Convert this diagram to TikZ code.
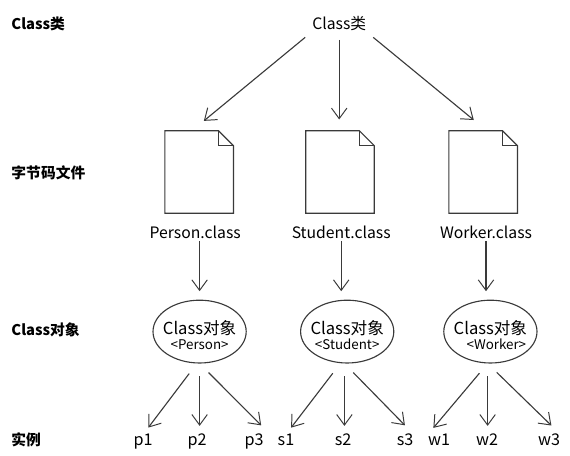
\documentclass[tikz,border=0pt]{standalone}
\usepackage{fontspec}
\setmainfont{Noto Sans CJK SC}
\usetikzlibrary{arrows.meta, shapes.geometric}

\definecolor{inkgrey}{HTML}{3A3A3A}
\tikzset{
  arr/.style={draw=inkgrey, line width=0.8pt, -{Straight Barb[length=7.5pt, width=11pt, line width=0.7pt]}},
  rowlabel/.style={anchor=west, inner sep=0pt, font=\bfseries\fontsize{10.5}{12}\selectfont},
  filelabel/.style={inner sep=1pt, font=\fontsize{11.2}{13}\selectfont},
  inst/.style={inner sep=0pt, text height=8pt, text depth=2.5pt, font=\fontsize{11.5}{13}\selectfont},
  docbox/.style={minimum width=1.7cm, minimum height=2.05cm, inner sep=0pt},
  obj/.style={ellipse, draw=inkgrey, line width=0.8pt, minimum width=2.33cm, minimum height=1.57cm,
    inner xsep=-4pt, inner ysep=0pt, align=center, font=\fontsize{11.8}{13}\selectfont},
}
\newcommand{\sublabel}[1]{{\fontsize{9.5}{11}\selectfont #1}}
\newcommand{\objhead}{\rule{0pt}{15pt}Class对象}
\newcommand{\docicon}[2]{
  \node[docbox](#1) at (#2) {};
  \draw[inkgrey, line width=0.8pt] (#1.north west) -- ([xshift=-0.375cm]#1.north east)
    -- ([yshift=-0.375cm]#1.north east) -- (#1.south east) -- (#1.south west) -- cycle;
  \draw[inkgrey, line width=0.8pt] ([xshift=-0.375cm]#1.north east) -- ([xshift=-0.375cm,yshift=-0.375cm]#1.north east)
    -- ([yshift=-0.375cm]#1.north east);
}

\begin{document}
\begin{tikzpicture}
\useasboundingbox (0,0) rectangle (14.25,11.4);

% row labels
\node[rowlabel](L0) at (0.28,10.8) {Class类};
\node[rowlabel](L1) at (0.28,7.08) {字节码文件};
\node[rowlabel](L2) at (0.28,3.15) {Class对象};
\node[rowlabel](L3) at (0.28,0.4) {实例};

\node[filelabel](top) at (8.48,10.8) {Class类};

\docicon{docA}{4.98,7.1}
\docicon{docS}{8.5,7.1}
\docicon{docW}{12.08,7.1}

\node[filelabel](nameA) at (4.88,5.58) {Person.class};
\node[filelabel](nameS) at (8.53,5.58) {Student.class};
\node[filelabel](nameW) at (12.15,5.58) {Worker.class};

\node[obj](objA) at (4.99,3.11) {\objhead\\[-2pt]\sublabel{<Person>}};
\node[obj](objS) at (8.68,3.11) {\objhead\\[-2pt]\sublabel{<Student>}};
\node[obj](objW) at (12.26,3.11) {\objhead\\[-2pt]\hspace*{0.3cm}\sublabel{<Worker>}};

\node[inst](p1) at (3.58,0.35) {p1};
\node[inst](p2) at (4.93,0.35) {p2};
\node[inst](p3) at (6.35,0.35) {p3};
\node[inst](s1) at (7.15,0.35) {s1};
\node[inst](s2) at (8.58,0.35) {s2};
\node[inst](s3) at (10.13,0.35) {s3};
\node[inst](w1) at (10.98,0.35) {w1};
\node[inst](w2) at (12.18,0.35) {w2};
\node[inst](w3) at (13.73,0.35) {w3};

\draw[arr, shorten <=5pt, shorten >=11pt] (top.south west) -- (docA.100);
\draw[arr, shorten <=5pt, shorten >=8pt] (top.south) -- (top.south |- docS.north);
\draw[arr, shorten <=5pt, shorten >=12pt] (top.south east) -- (docW.85);

\draw[arr, shorten >=6pt] (objA.north |- nameA.south) -- (objA.north);
\draw[arr, shorten >=6pt] (nameS.south) -- (nameS.south |- objS.north);
\draw[arr, shorten >=6pt] (nameW.south) -- (nameW.south |- objW.north);

\draw[arr, shorten <=9pt, shorten >=6pt] (objA.265) -- (p1.north);
\draw[arr, shorten <=9pt, shorten >=6pt] (objA.south) -- (objA.south |- p2.north);
\draw[arr, shorten <=9pt, shorten >=9pt] (objA.south) -- ([xshift=4.5pt]p3.north east);

\draw[arr, shorten <=9pt, shorten >=6pt] (objS.258) -- (s1.north);
\draw[arr, shorten <=9pt, shorten >=6pt] (objS.265) -- (objS.265 |- s2.north);
\draw[arr, shorten <=9pt, shorten >=9pt] (objS.265) -- (s3.north east);

\draw[arr, shorten <=9pt, shorten >=6pt] (objW.265) -- (w1.north west);
\draw[arr, shorten <=9pt, shorten >=6pt] (objW.265) -- (objW.265 |- w2.north);
\draw[arr, shorten <=9pt, shorten >=9pt] (objW.265) -- (w3.north east);
\end{tikzpicture}
\end{document}
